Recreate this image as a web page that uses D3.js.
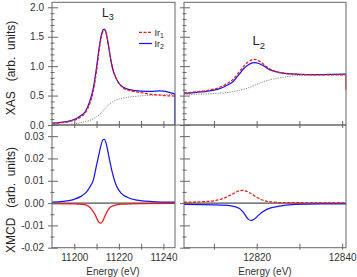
<!DOCTYPE html>
<html><head><meta charset="utf-8">
<script src="https://cdn.jsdelivr.net/npm/d3@7"></script>
<style>
html,body{margin:0;padding:0;background:#fff;}
svg{display:block;font-family:"Liberation Sans",Arial,sans-serif;}
</style></head>
<body><svg id="c" width="357" height="277"></svg>
<script>
// ---- data ----
const l3Energy   = [11190,11194,11198,11201,11203,11205,11207,11208.5,11210,11211,11212,11213,11213.5,11214,11215,11216,11217,11218,11220,11222,11225,11230,11235,11238,11240,11243,11245.2,11245.2];
const l3XasIr2   = [0.03,0.045,0.07,0.11,0.16,0.23,0.41,0.62,0.98,1.27,1.50,1.62,1.63,1.60,1.43,1.19,0.99,0.86,0.71,0.64,0.60,0.575,0.57,0.58,0.575,0.55,0.53,0];
const l3XasIr1   = [0.025,0.04,0.06,0.095,0.14,0.21,0.37,0.57,0.92,1.22,1.47,1.60,1.62,1.60,1.44,1.20,1.00,0.87,0.71,0.63,0.585,0.55,0.52,0.51,0.50,0.495,0.49,0];
const l3BgEnergy = [11190,11200,11204,11207,11210,11212,11213,11214,11216,11218,11220,11223,11227,11232,11238,11245.2];
const l3Bg       = [0.0,0.02,0.05,0.08,0.14,0.2,0.24,0.29,0.36,0.41,0.44,0.465,0.485,0.5,0.51,0.52];

const l2Energy   = [12803,12806,12809,12811,12813,12814.5,12816,12817,12818,12819,12819.6,12820.5,12821.5,12823,12825,12827,12830,12834,12838,12840.9];
const l2XasIr2   = [0.54,0.555,0.58,0.61,0.67,0.74,0.87,0.96,1.02,1.055,1.06,1.045,1.01,0.94,0.895,0.875,0.862,0.855,0.86,0.865];
const l2XasIr1   = [0.545,0.565,0.595,0.63,0.70,0.78,0.91,1.00,1.07,1.11,1.115,1.09,1.04,0.955,0.90,0.875,0.86,0.852,0.85,0.85];
const l2Ir1EndDrop = 0.6;
const l2BgEnergy = [12803,12810,12814,12816,12818,12820,12822,12824,12827,12830,12835,12840.9];
const l2Bg       = [0.52,0.535,0.56,0.59,0.63,0.69,0.745,0.78,0.82,0.843,0.852,0.855];

const l3McdEnergyIr2 = [11190,11195,11200,11203,11205.5,11207,11208.5,11210,11211,11212,11213,11213.5,11214.5,11215.5,11217,11219,11221,11224,11228,11235,11245.2];
const l3McdIr2       = [0.0004,0.0008,0.0017,0.003,0.005,0.0072,0.0102,0.017,0.0215,0.026,0.0285,0.0286,0.026,0.021,0.014,0.0075,0.0045,0.0025,0.0013,0.0007,0.0004];
const l3McdEnergyIr1 = [11190,11200,11204,11206,11208,11209.5,11210.8,11211.6,11212.5,11213.5,11214.5,11216,11218,11221,11230,11245.2];
const l3McdIr1       = [-0.0002,-0.0003,-0.0006,-0.0012,-0.003,-0.0055,-0.0083,-0.009,-0.0085,-0.0065,-0.0042,-0.002,-0.001,-0.0005,-0.0002,-0.0001];

const l2McdEnergyIr1 = [12803,12808,12810,12812,12814,12815.5,12816.6,12817.5,12818.5,12819.5,12821,12823,12826,12840.9];
const l2McdIr1       = [0.0004,0.0007,0.001,0.002,0.0037,0.0052,0.0057,0.0054,0.0044,0.0032,0.0016,0.0006,0.0002,0.0001];
const l2McdEnergyIr2 = [12803,12810,12814,12816,12817,12818,12818.7,12819.5,12820.4,12821.5,12822.5,12825,12829,12835,12840.9];
const l2McdIr2       = [-0.0006,-0.0008,-0.0012,-0.0024,-0.0045,-0.0072,-0.0078,-0.0071,-0.0055,-0.0038,-0.0027,-0.0015,-0.0006,-0.0003,-0.0003];

const xasTicks = [0,0.5,1.0,1.5,2.0];
const xasTickLabels = ["0.0","0.5","1.0","1.5","2.0"];
const xasMinor = [0.1,0.2,0.3,0.4,0.6,0.7,0.8,0.9,1.1,1.2,1.3,1.4,1.6,1.7,1.8,1.9];
const mcdTicks = [-0.02,-0.01,0,0.01,0.02,0.03];
const mcdTickLabels = ["-0.02","-0.01","0.00","0.01","0.02","0.03"];
const mcdMinor = [-0.015,-0.005,0.005,0.015,0.025];
const l3Ticks = [11200,11220,11240];
const l3Minor = [11210,11230];
const l2Ticks = [12820,12840];
const l2Minor = [12810,12830];

// ---- layout ----
const svg = d3.select("#c");
const LX0=52, LX1=175, RX0=184, RX1=346, TY0=2.3, MY=125, BY1=247.7;
const xL = d3.scaleLinear([11190,11245.2],[LX0,LX1]);
const xR = d3.scaleLinear([12803,12840.9],[RX0,RX1]);
const yT = d3.scaleLinear([0,2.085],[MY,TY0]);
const yB = d3.scaleLinear([-0.02,0.035],[BY1,MY]);
const RED="#f51515", BLUE="#1515f5", AX="#666";
const LW=1.25;

const defs = svg.append("defs");
function clip(id,x0,x1,y0,y1){defs.append("clipPath").attr("id",id).append("rect").attr("x",x0).attr("y",y0).attr("width",x1-x0+0.5).attr("height",y1-y0);}
clip("cTL",LX0,LX1,TY0,MY); clip("cTR",RX0,RX1,TY0,MY); clip("cBL",LX0,LX1,MY,BY1); clip("cBR",RX0,RX1,MY,BY1);

function curve(xs,ys,xsc,ysc,color,dash,cp,w){
  const line=d3.line().x(d=>xsc(d[0])).y(d=>ysc(d[1])).curve(d3.curveMonotoneX);
  svg.append("path").attr("d",line(xs.map((x,i)=>[x,ys[i]]))).attr("fill","none")
    .attr("stroke",color).attr("stroke-width",w||LW).attr("stroke-dasharray",dash||null)
    .attr("clip-path","url(#"+cp+")");
}
function straight(pts,xsc,ysc,color,dash,cp,w){
  const line=d3.line().x(d=>xsc(d[0])).y(d=>ysc(d[1]));
  svg.append("path").attr("d",line(pts)).attr("fill","none").attr("stroke",color)
    .attr("stroke-width",w||LW).attr("stroke-dasharray",dash||null).attr("clip-path","url(#"+cp+")");
}

// zero line in XMCD panels
svg.append("line").attr("x1",LX0).attr("x2",LX1).attr("y1",yB(0)).attr("y2",yB(0)).attr("stroke","#222").attr("stroke-width",1);
svg.append("line").attr("x1",RX0).attr("x2",RX1).attr("y1",yB(0)).attr("y2",yB(0)).attr("stroke","#222").attr("stroke-width",1);

// curves: L3 XAS
curve(l3BgEnergy,l3Bg,xL,yT,"#888","1.2,1.2","cTL",1);
curve(l3Energy.slice(0,-1),l3XasIr2.slice(0,-1),xL,yT,BLUE,null,"cTL");
curve(l3Energy.slice(0,-1),l3XasIr1.slice(0,-1),xL,yT,RED,"3,1.5","cTL");
straight([[l3Energy[l3Energy.length-1],l3XasIr2[l3XasIr2.length-2]],[l3Energy[l3Energy.length-1],0]],xL,yT,BLUE,null,"cTL");
// L2 XAS
curve(l2BgEnergy,l2Bg,xR,yT,"#888","1.2,1.2","cTR",1);
curve(l2Energy,l2XasIr2,xR,yT,BLUE,null,"cTR");
curve(l2Energy,l2XasIr1,xR,yT,RED,"3,1.5","cTR");
straight([[l2Energy[l2Energy.length-1],l2XasIr1[l2XasIr1.length-1]],[l2Energy[l2Energy.length-1],l2Ir1EndDrop]],xR,yT,RED,null,"cTR");
// XMCD
curve(l3McdEnergyIr2,l3McdIr2,xL,yB,BLUE,null,"cBL");
curve(l3McdEnergyIr1,l3McdIr1,xL,yB,RED,null,"cBL");
curve(l2McdEnergyIr2,l2McdIr2,xR,yB,BLUE,null,"cBR");
curve(l2McdEnergyIr1,l2McdIr1,xR,yB,RED,"3,1.5","cBR");

// frames
function frame(x0,x1,y0,y1){
  svg.append("rect").attr("x",x0).attr("y",y0).attr("width",x1-x0).attr("height",y1-y0)
   .attr("fill","none").attr("stroke",AX).attr("stroke-width",1);
}
frame(LX0,LX1,TY0,MY); frame(RX0,RX1,TY0,MY); frame(LX0,LX1,MY,BY1); frame(RX0,RX1,MY,BY1);
svg.append("line").attr("x1",LX1).attr("x2",RX0).attr("y1",MY).attr("y2",MY).attr("stroke",AX);

// axes
function yAxis(x,scale,major,labels,minor,showLabels){
  const g=svg.append("g").attr("transform",`translate(${x},0)`);
  const ax=d3.axisLeft(scale).tickValues(major).tickSize(0).tickPadding(8)
    .tickFormat((d,i)=>showLabels?labels[i]:"");
  g.call(ax); g.select(".domain").remove();
  g.selectAll(".tick line").attr("x1",-4).attr("x2",6).attr("stroke",AX);
  g.selectAll(".tick text").attr("font-size",10).attr("fill","#333").attr("font-family","Liberation Sans, Arial, sans-serif");
  const g2=svg.append("g").attr("transform",`translate(${x},0)`);
  g2.call(d3.axisLeft(scale).tickValues(minor).tickSize(0).tickFormat(""));
  g2.select(".domain").remove();
  g2.selectAll(".tick line").attr("x1",-1.5).attr("x2",2.5).attr("stroke",AX);
}
yAxis(LX0,yT,xasTicks,xasTickLabels,xasMinor,true);
yAxis(RX0,yT,xasTicks,xasTickLabels,xasMinor,false);
yAxis(LX0,yB,mcdTicks,mcdTickLabels,mcdMinor,true);
yAxis(RX0,yB,mcdTicks,mcdTickLabels,mcdMinor,false);

function xAxis(y,scale,major,minor,labels,up,down){
  const g=svg.append("g").attr("transform",`translate(0,${y})`);
  g.call(d3.axisBottom(scale).tickValues(major).tickSize(0).tickPadding(6).tickFormat(labels?d3.format("d"):""));
  g.select(".domain").remove();
  g.selectAll(".tick line").attr("y1",-up).attr("y2",down).attr("stroke",AX);
  g.selectAll(".tick text").attr("font-size",10).attr("fill","#333").attr("font-family","Liberation Sans, Arial, sans-serif");
  const g2=svg.append("g").attr("transform",`translate(0,${y})`);
  g2.call(d3.axisBottom(scale).tickValues(minor).tickSize(0).tickFormat(""));
  g2.select(".domain").remove();
  g2.selectAll(".tick line").attr("y1",-up).attr("y2",down).attr("stroke",AX);
}
xAxis(MY,xL,l3Ticks,l3Minor,false,4,3);
xAxis(MY,xR,l2Ticks,l2Minor,false,4,3);
xAxis(BY1,xL,l3Ticks,l3Minor,true,4,2);
xAxis(BY1,xR,l2Ticks,l2Minor,true,4,2);

// labels
function lab(x,y,main,sub,fs,sfs,col){
  const t=svg.append("text").attr("x",x).attr("y",y).attr("font-size",fs).attr("fill",col||"#222");
  t.append("tspan").text(main);
  t.append("tspan").attr("font-size",sfs).attr("dy",fs*0.3).text(sub);
}
lab(102,16.8,"L","3",12,9);
lab(252.5,45,"L","2",13,9.5);
// legend
svg.append("line").attr("x1",139).attr("x2",152).attr("y1",32.3).attr("y2",32.3).attr("stroke",RED).attr("stroke-width",LW).attr("stroke-dasharray","3,1.5");
svg.append("line").attr("x1",139).attr("x2",152).attr("y1",43.5).attr("y2",43.5).attr("stroke",BLUE).attr("stroke-width",LW);
lab(154.5,35.5,"Ir","1",9,7);
lab(154.5,46.5,"Ir","2",9,7);

svg.append("text").attr("x",113).attr("y",275).attr("text-anchor","middle").attr("font-size",10).attr("fill","#333").text("Energy (eV)");
svg.append("text").attr("x",265).attr("y",275).attr("text-anchor","middle").attr("font-size",10).attr("fill","#333").text("Energy (eV)");

svg.append("text").attr("transform","translate(15,68) rotate(-90)").attr("text-anchor","middle")
  .attr("font-size",12).attr("fill","#222").style("white-space","pre").text("XAS   (arb.  units)");
svg.append("text").attr("transform","translate(15,200) rotate(-90)").attr("text-anchor","middle")
  .attr("font-size",12).attr("fill","#222").style("white-space","pre").text("XMCD   (arb.  units)");
</script></body></html>
